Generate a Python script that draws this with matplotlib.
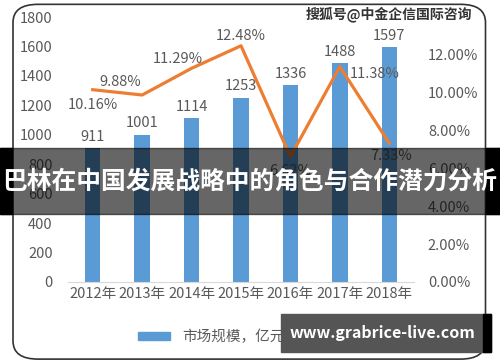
import matplotlib
matplotlib.use("Agg")
import matplotlib.pyplot as plt
from matplotlib.patches import FancyBboxPatch, Rectangle
from matplotlib.ticker import FuncFormatter

plt.rcParams['font.family'] = ['Noto Sans CJK SC', 'DejaVu Sans']

years = ['2012年', '2013年', '2014年', '2015年', '2016年', '2017年', '2018年']
market_size = [911, 1001, 1114, 1253, 1336, 1488, 1597]
growth = [10.16, 9.88, 11.29, 12.48, 6.62, 11.38, 7.33]
# label offsets (points) for the growth-rate labels
growth_offsets = [(0, -11), (-16, 9), (-10, 7), (0, 7), (0, -10), (25, -5), (1, -9)]

bar_color = '#5B9BD5'
line_color = '#ED7D31'
text_color = '#595959'
fs = 10.5

fig = plt.figure(figsize=(5, 3.62), dpi=100)
ax = fig.add_axes([0.136, 0.221, 0.692, 0.732])

x = list(range(len(years)))
ax.bar(x, market_size, width=0.31, color=bar_color, zorder=2)
for xi, v in zip(x, market_size):
    ax.annotate(str(v), (xi, v), xytext=(0, 3), textcoords='offset points',
                ha='center', va='bottom', fontsize=fs, color=text_color)

ax.set_ylim(0, 1800)
ax.set_yticks(range(0, 1801, 200))
ax.set_xlim(-0.5, len(years) - 0.5)
ax.set_xticks(x)
ax.set_xticklabels(years)
for s in ['top', 'left', 'right']:
    ax.spines[s].set_visible(False)
ax.spines['bottom'].set_color('#D9D9D9')
ax.tick_params(length=0, labelsize=fs, colors=text_color)
ax.tick_params(axis='y', pad=11)

ax2 = ax.twinx()
ax2.plot(x, growth, color=line_color, lw=2.3, zorder=3)
for xi, g, off in zip(x, growth, growth_offsets):
    ax2.annotate('%.2f%%' % g, (xi, g), xytext=off, textcoords='offset points',
                 ha='center', va='center', fontsize=fs, color=text_color)
ax2.set_ylim(0, 14)
ax2.set_yticks([0, 2, 4, 6, 8, 10, 12])
ax2.yaxis.set_major_formatter(FuncFormatter(lambda v, p: '%.2f%%' % v))
for s in ['top', 'left', 'right', 'bottom']:
    ax2.spines[s].set_visible(False)
ax2.tick_params(length=0, labelsize=fs, colors=text_color, pad=10)

fig.legend([Rectangle((0, 0), 1, 1, color=bar_color),
            plt.Line2D([], [], color=line_color, lw=2.3)],
           ['市场规模，亿元', '增长率'], loc='center left', bbox_to_anchor=(0.25, 0.07),
           ncol=2, frameon=False, fontsize=fs, labelcolor=text_color,
           handlelength=2.2, handleheight=0.5, columnspacing=2)

# rounded outer frame
fig.patches.append(FancyBboxPatch((0.026, 0.008), 0.945, 0.98,
                                  boxstyle='round,pad=0,rounding_size=0.05',
                                  transform=fig.transFigure, fill=False,
                                  ec='#333333', lw=1.2))

# top-right watermark
fig.text(0.945, 0.962, '搜狐号@中金企信国际咨询', ha='right', va='center',
         fontsize=10, fontweight='bold', color='#333333')

# banner overlay
fig.patches.append(Rectangle((0, 0.41), 1, 0.182, transform=fig.transFigure,
                             color='black', alpha=0.6, zorder=10))
fig.patches.append(Rectangle((0, 0.41), 0.024, 0.182, transform=fig.transFigure,
                             color='black', zorder=10))
fig.patches.append(Rectangle((0.972, 0.41), 0.028, 0.182, transform=fig.transFigure,
                             color='black', zorder=10))
fig.text(0.5, 0.497, '巴林在中国发展战略中的角色与合作潜力分析', ha='center', va='center',
         fontsize=17.8, fontweight='bold', color='white', zorder=11)

# bottom-right site box
fig.patches.append(Rectangle((0.562, 0.027), 0.42, 0.105, transform=fig.transFigure,
                             color='#555555', zorder=10))
fig.patches.append(Rectangle((0.966, 0.027), 0.016, 0.105, transform=fig.transFigure,
                             color='black', zorder=10))
fig.text(0.764, 0.08, 'www.grabrice-live.com', ha='center', va='center',
         fontsize=11.5, fontweight='bold', color='white', zorder=11)

fig.savefig('out.png', dpi=100)
